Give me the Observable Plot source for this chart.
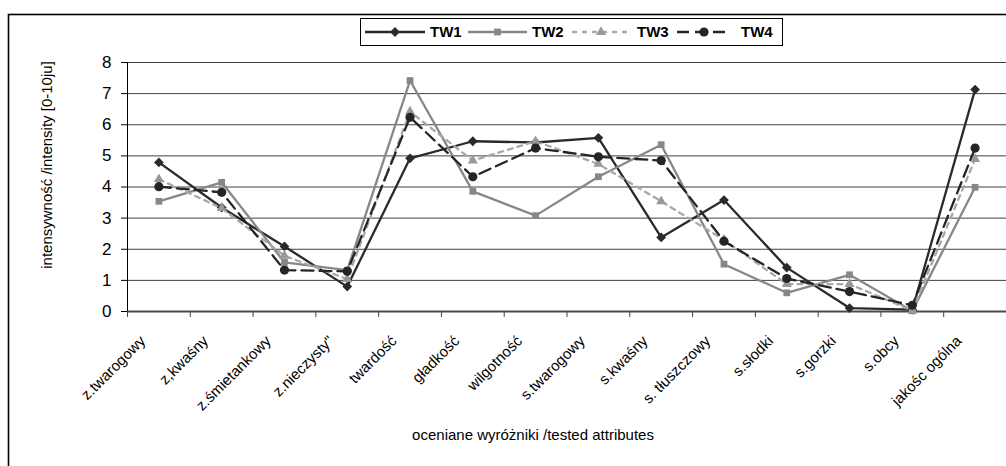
<!DOCTYPE html>
<html>
<head>
<meta charset="utf-8">
<script src="https://cdn.jsdelivr.net/npm/d3@7"></script>
<script src="https://cdn.jsdelivr.net/npm/@observablehq/plot@0.6"></script>
<style>
  html, body { margin: 0; padding: 0; background: #fff; }
  #chart { width: 1006px; height: 466px; overflow: hidden; }
  svg { font-family: "Liberation Sans", Arial, sans-serif; }
</style>
</head>
<body>
<div id="chart"></div>
<script>
// Sensory attributes (x axis)
const categories = [
  "z.twarogowy", "z,kwaśny", "z.śmietankowy", "z.nieczysty\"", "twardość",
  "gładkość", "wilgotność", "s.twarogowy", "s.kwaśny", "s. tłuszczowy",
  "s.słodki", "s.gorzki", "s.obcy", "jakośc ogólna"
];

const seriesNames = ["TW1", "TW2", "TW3", "TW4"];

// Mean intensity scores [0-10 units] per attribute
const tw1 = [4.79, 3.34, 2.09, 0.80, 4.92, 5.47, 5.43, 5.58, 2.38, 3.58, 1.41, 0.11, 0.06, 7.13];
const tw2 = [3.54, 4.15, 1.58, 1.33, 7.42, 3.86, 3.08, 4.33, 5.36, 1.52, 0.60, 1.18, 0.02, 3.99];
const tw3 = [4.25, 3.32, 1.79, 1.04, 6.42, 4.85, 5.47, 4.74, 3.54, 2.30, 0.88, 0.88, 0.03, 4.90];
const tw4 = [4.01, 3.83, 1.33, 1.29, 6.24, 4.33, 5.25, 4.97, 4.85, 2.26, 1.06, 0.64, 0.20, 5.25];

const yTicks = [0, 1, 2, 3, 4, 5, 6, 7, 8];

const yTitle = "intensywność /intensity [0-10ju]";
const xTitle = "oceniane wyróżniki /tested attributes";

const values = { TW1: tw1, TW2: tw2, TW3: tw3, TW4: tw4 };

const look = {
  TW1: { stroke: "#2a2a2a", fill: "#2a2a2a", dash: null,   symbol: "diamond2",  r: 4.4 },
  TW2: { stroke: "#878787", fill: "#878787", dash: null,   symbol: "square2",   r: 4.3 },
  TW3: { stroke: "#a8a8a8", fill: "#999999", dash: "5,5",  symbol: "triangle2", r: 4.8 },
  TW4: { stroke: "#252525", fill: "#252525", dash: "12,6", symbol: "circle",    r: 4.6 }
};

const rows = seriesNames.flatMap(s =>
  categories.map((c, i) => ({ series: s, i, category: c, value: values[s][i] }))
);

const font = "'Liberation Sans', Arial, sans-serif";

const lineMarks = seriesNames.map(s =>
  Plot.line(rows.filter(d => d.series === s), {
    x: "i", y: "value",
    stroke: look[s].stroke, strokeWidth: 2.3,
    strokeDasharray: look[s].dash, strokeLinejoin: "miter"
  })
);

const dotMarks = seriesNames.map(s =>
  Plot.dot(rows.filter(d => d.series === s), {
    x: "i", y: "value",
    symbol: () => look[s].symbol, r: look[s].r,
    fill: look[s].fill, stroke: "none"
  })
);

const chart = Plot.plot({
  width: 1006,
  height: 466,
  marginLeft: 127,
  marginRight: 0,
  marginTop: 62,
  marginBottom: 155,
  x: { type: "linear", domain: [-0.5, categories.length - 0.5] },
  y: { domain: [0, 8] },
  symbol: { type: "identity" },
  style: { fontFamily: font, fontSize: "15px", background: "white", color: "#000", overflow: "visible" },
  marks: [
    Plot.ruleY(yTicks.filter(d => d > 0), { stroke: "#404040", strokeWidth: 1 }),
    Plot.axisY({ ticks: yTicks, tickSize: 6, tickPadding: 10, label: null, fontSize: 17 }),
    Plot.axisX({ ticks: d3.range(categories.length + 1).map(i => i - 0.5), tickSize: 6, tickFormat: () => "", label: null, stroke: "#444" }),
    Plot.axisX({
      ticks: d3.range(categories.length), tickSize: 0, tickPadding: 27,
      tickRotate: -45, tickFormat: i => categories[i], label: null, fontSize: 15, dx: -16
    }),
    Plot.ruleY([0], { stroke: "#4a4a4a", strokeWidth: 2 }),
    Plot.ruleX([-0.5], { stroke: "#000", strokeWidth: 1 }),
    ...lineMarks,
    ...dotMarks,
    Plot.text([yTitle], { frameAnchor: "left", textAnchor: "middle", rotate: -90, dx: -80, dy: -22, fontSize: 15 }),
    Plot.text([xTitle], { frameAnchor: "bottom", textAnchor: "middle", dx: -34, dy: 128, fontSize: 15 })
  ]
});

document.getElementById("chart").appendChild(chart);

// Outer chart border and the legend box along the top
const svg = d3.select(chart);

svg.append("rect")
  .attr("x", 8.5).attr("y", 14.5)
  .attr("width", 1200).attr("height", 600)
  .attr("fill", "none").attr("stroke", "#000").attr("stroke-width", 1.6);

const legend = svg.append("g");
legend.append("rect")
  .attr("x", 360.5).attr("y", 18.5).attr("width", 422).attr("height", 27)
  .attr("fill", "#fff").attr("stroke", "#000").attr("stroke-width", 1);

const legendItems = [
  { s: "TW1", x1: 365, x2: 425, tx: 430 },
  { s: "TW2", x1: 468, x2: 527, tx: 532 },
  { s: "TW3", x1: 572, x2: 630, tx: 637 },
  { s: "TW4", x1: 677, x2: 731, tx: 741 }
];
const symbolType = { diamond2: d3.symbolDiamond2, square2: d3.symbolSquare2, triangle2: d3.symbolTriangle2, circle: d3.symbolCircle };
const ly = 32;
legendItems.forEach(it => {
  const L = look[it.s];
  legend.append("line")
    .attr("x1", it.x1).attr("x2", it.x2).attr("y1", ly).attr("y2", ly)
    .attr("stroke", L.stroke).attr("stroke-width", 2.3)
    .attr("stroke-dasharray", L.dash);
  legend.append("path")
    .attr("transform", `translate(${(it.x1 + it.x2) / 2},${ly})`)
    .attr("d", d3.symbol(symbolType[L.symbol], Math.PI * L.r * L.r)())
    .attr("fill", L.fill);
  legend.append("text")
    .attr("x", it.tx).attr("y", ly).attr("dy", "0.35em")
    .attr("text-anchor", "start")
    .attr("font-size", 15).attr("font-weight", "bold").attr("fill", "#000")
    .text(it.s);
});
</script>
</body>
</html>
